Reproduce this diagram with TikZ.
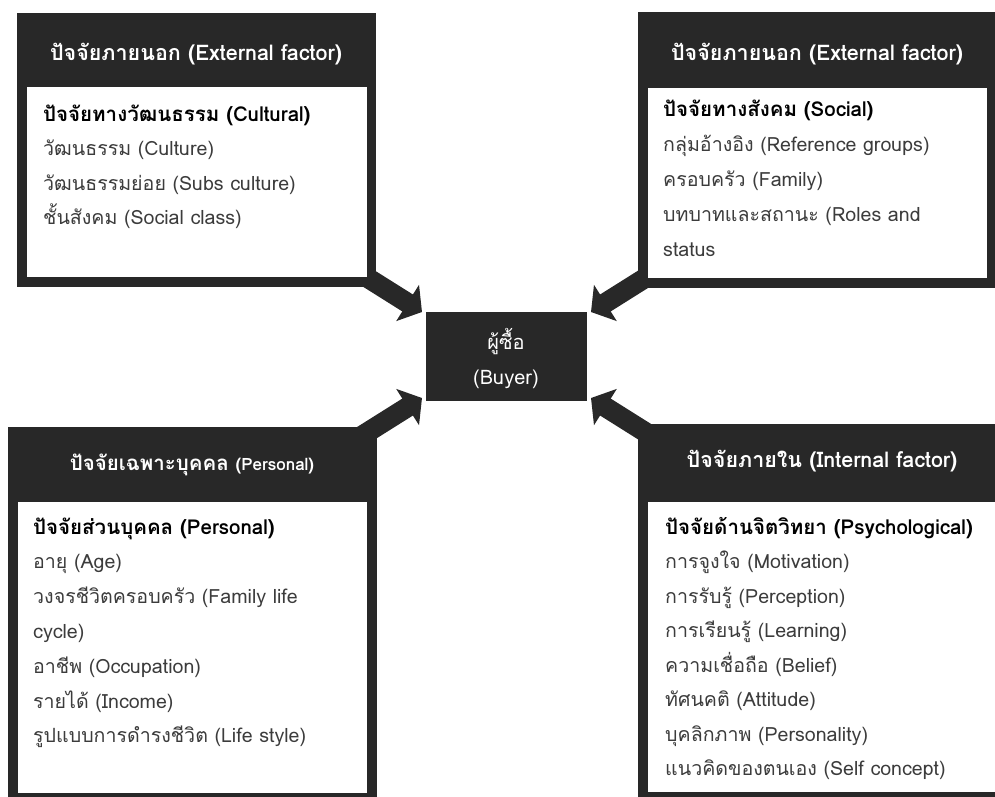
\documentclass[tikz,border=0pt]{standalone}
\usepackage{fontspec}
\setmainfont[Script=Thai]{Loma}
\usetikzlibrary{arrows.meta}
\definecolor{dk}{RGB}{40,40,40}
\definecolor{bodygray}{RGB}{60,60,60}
\begin{document}
\begin{tikzpicture}[x=1pt,y=-1pt,
  panel/.style={fill=dk, draw=none, inner sep=0pt, outer sep=0pt, anchor=north west},
  whitebox/.style={fill=white, draw=none, inner sep=0pt, outer sep=0pt, anchor=north west},
  ttl/.style={text=white, font=\fontsize{21.5}{24}\selectfont\bfseries, anchor=base, inner sep=0pt},
  hd/.style={text=black, font=\fontsize{20.5}{24}\selectfont\bfseries, anchor=base west, inner sep=0pt},
  itm/.style={text=bodygray, font=\fontsize{19.6}{24}\selectfont, anchor=base west, inner sep=0pt},
  buyertxt/.style={text=white, font=\fontsize{20}{24}\selectfont, anchor=base, inner sep=0pt},
  blockarrow/.style={draw=dk, line width=20pt, -{Triangle[length=17pt,width=42pt]}},
]
\useasboundingbox (0,0) rectangle (995,796);
\clip (0,0) rectangle (995,796);

% arrow end points
\coordinate (a1s) at (352,268); \coordinate (a1e) at (422,312);
\coordinate (a2s) at (661,268); \coordinate (a2e) at (591,312);
\coordinate (a3s) at (352,442); \coordinate (a3e) at (422,398);
\coordinate (a4s) at (661,442); \coordinate (a4e) at (591,398);

\draw[blockarrow] (a1s) -- (a1e);
\draw[blockarrow] (a2s) -- (a2e);
\draw[blockarrow] (a3s) -- (a3e);
\draw[blockarrow] (a4s) -- (a4e);

% panels
\node[panel, minimum width=359, minimum height=274] (tlp) at (17,13) {};
\node[whitebox, minimum width=340, minimum height=190] (tlw) at (27,87) {};
\node[panel, minimum width=360, minimum height=276] (trp) at (638,12) {};
\node[whitebox, minimum width=339, minimum height=190] (trw) at (648,88) {};
\node[panel, minimum width=369, minimum height=380] (blp) at (8,427) {};
\node[whitebox, minimum width=349, minimum height=291] (blw) at (18,502) {};
\node[panel, minimum width=370, minimum height=380] (brp) at (638,424) {};
\node[whitebox, minimum width=360, minimum height=290] (brw) at (648,502) {};

% buyer
\node[panel, minimum width=161, minimum height=89] (buyer) at (426,312) {};
\node[buyertxt] (buyerth) at (506,349) {ผู้ซื้อ};
\node[buyertxt] (buyeren) at (506,384) {(Buyer)};

% titles
\node[ttl] (tlt) at (196,60) {ปัจจัยภายนอก (External factor)};
\node[ttl] (trt) at (817,60) {ปัจจัยภายนอก (External factor)};
\node[ttl, font=\fontsize{20.5}{24}\selectfont\bfseries] (blt) at (192,470) {ปัจจัยเฉพาะบุคคล {\fontsize{17}{20}\selectfont(Personal)}};
\node[ttl] (brt) at (822,467) {ปัจจัยภายใน (Internal factor)};

% top-left list
\node[hd] (tl0) at (43,121) {ปัจจัยทางวัฒนธรรม (Cultural)};
\foreach \t [count=\i] in {วัฒนธรรม (Culture), วัฒนธรรมย่อย (Subs culture), ชั้นสังคม (Social class)}
  \node[itm] (tl\i) at (43,121+34.5*\i) {\t};

% top-right list
\node[hd] (tr0) at (663,116) {ปัจจัยทางสังคม (Social)};
\foreach \t [count=\i] in {กลุ่มอ้างอิง (Reference groups), ครอบครัว (Family), บทบาทและสถานะ (Roles and, status}
  \node[itm] (tr\i) at (663,116+35*\i) {\t};

% bottom-left list
\node[hd] (bl0) at (33,534) {ปัจจัยส่วนบุคคล (Personal)};
\foreach \t [count=\i] in {อายุ (Age), วงจรชีวิตครอบครัว (Family life, cycle), อาชีพ (Occupation), รายได้ (Income), รูปแบบการดำรงชีวิต (Life style)}
  \node[itm] (bl\i) at (33,534+34.8*\i) {\t};

% bottom-right list
\node[hd] (br0) at (665,534) {ปัจจัยด้านจิตวิทยา (Psychological)};
\foreach \t [count=\i] in {การจูงใจ (Motivation), การรับรู้ (Perception), การเรียนรู้ (Learning), ความเชื่อถือ (Belief), ทัศนคติ (Attitude), บุคลิกภาพ (Personality), แนวคิดของตนเอง (Self concept)}
  \node[itm] (br\i) at (665,534+34.5*\i) {\t};
\end{tikzpicture}
\end{document}
